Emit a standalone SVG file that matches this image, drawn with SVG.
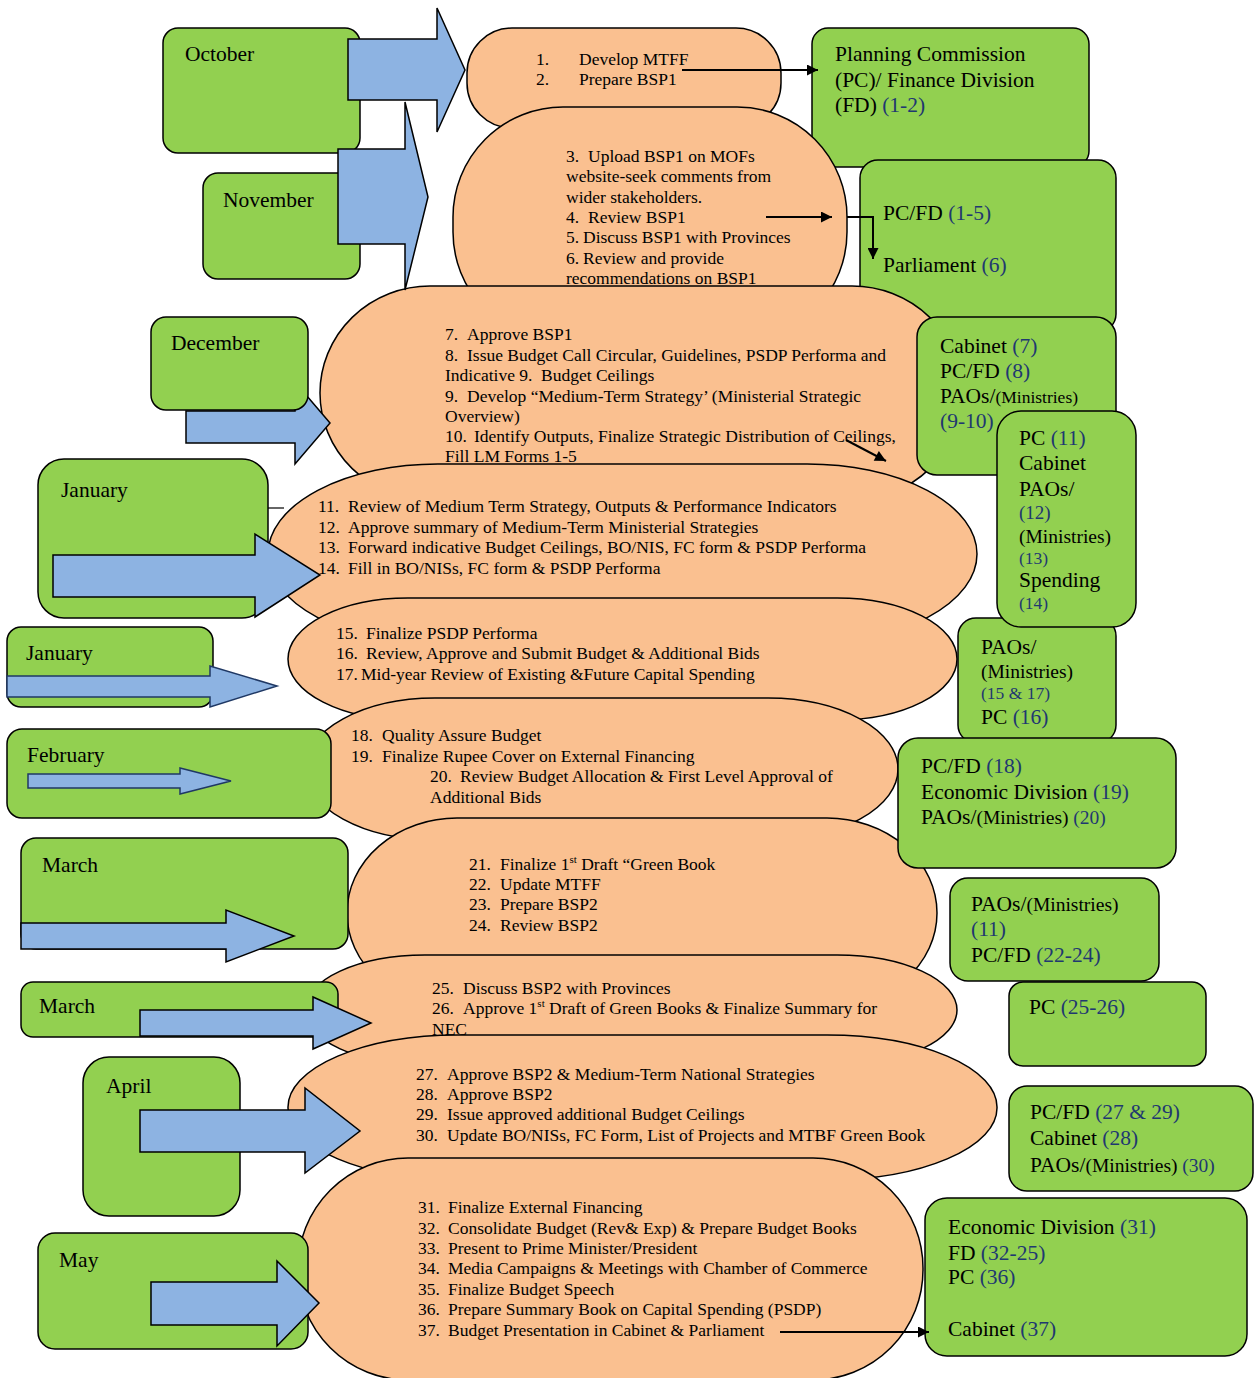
<svg xmlns="http://www.w3.org/2000/svg" width="1256" height="1378" viewBox="0 0 1256 1378">
<style>
.box{fill:#92d050;stroke:#000;stroke-width:1.5}
.oval{fill:#fac090;stroke:#000;stroke-width:1.5}
.arr{fill:#8db3e2;stroke:#000;stroke-width:1.5}
.arrn{fill:#8db3e2;stroke:#1f3864;stroke-width:1.5}
text{font-family:"Liberation Serif","Times New Roman",serif;fill:#000}
.t{font-size:17.5px}
.m{font-size:21.5px}
.s{font-size:17.5px}
.b{fill:#1f3870}
.con{fill:none;stroke:#000;stroke-width:2}
</style>
<defs>
<marker id="ah" viewBox="0 0 10 10" refX="10" refY="5" markerWidth="13" markerHeight="11" markerUnits="userSpaceOnUse" orient="auto"><path d="M0,0 L10,5 L0,10 z" fill="#000"/></marker>
</defs>

<g id="resp-1"><rect class="box" x="812" y="28" width="277" height="139" rx="16"/>
<text class="m" x="835" y="61">Planning Commission</text>
<text class="m" x="835" y="87">(PC)/ Finance Division</text>
<text class="m" x="835" y="112">(FD) <tspan class="b">(1-2)</tspan></text></g>

<g id="step-1"><rect class="oval" x="467" y="28" width="314" height="100" rx="45" ry="45"/>
<text class="t" y="65"><tspan x="536">1.</tspan><tspan x="579">Develop MTFF</tspan></text>
<text class="t" y="85"><tspan x="536">2.</tspan><tspan x="579">Prepare BSP1</tspan></text></g>

<g id="step-2"><rect class="oval" x="453" y="107" width="394" height="235" rx="110" ry="110"/>
<text class="t" y="162"><tspan x="566">3.</tspan><tspan x="588">Upload BSP1 on MOFs</tspan></text>
<text class="t" x="566" y="182">website-seek comments from</text>
<text class="t" x="566" y="203">wider stakeholders.</text>
<text class="t" y="223"><tspan x="566">4.</tspan><tspan x="588">Review BSP1</tspan></text>
<text class="t" y="243"><tspan x="566">5.</tspan><tspan x="583">Discuss BSP1 with Provinces</tspan></text>
<text class="t" y="264"><tspan x="566">6.</tspan><tspan x="583">Review and provide</tspan></text>
<text class="t" x="566" y="284">recommendations on BSP1</text></g>

<g id="resp-2"><rect class="box" x="860" y="160" width="256" height="172" rx="18"/>
<text class="m" x="883" y="220">PC/FD <tspan class="b">(1-5)</tspan></text>
<text class="m" x="883" y="272">Parliament <tspan class="b">(6)</tspan></text></g>

<g id="step-3"><rect class="oval" x="320" y="286" width="642" height="214" rx="110" ry="107"/>
<text class="t" y="340"><tspan x="445">7.</tspan><tspan x="467">Approve BSP1</tspan></text>
<text class="t" y="361"><tspan x="445">8.</tspan><tspan x="467">Issue Budget Call Circular, Guidelines, PSDP Performa and</tspan></text>
<text class="t" y="381"><tspan x="445">Indicative 9.</tspan><tspan x="541">Budget Ceilings</tspan></text>
<text class="t" y="402"><tspan x="445">9.</tspan><tspan x="467">Develop “Medium-Term Strategy’ (Ministerial Strategic</tspan></text>
<text class="t" x="445" y="422">Overview)</text>
<text class="t" y="442"><tspan x="445">10.</tspan><tspan x="474">Identify Outputs, Finalize Strategic Distribution of Ceilings,</tspan></text>
<text class="t" x="445" y="462">Fill LM Forms 1-5</text></g>

<g id="resp-3"><rect class="box" x="917" y="317" width="199" height="158" rx="20"/>
<text class="m" x="940" y="353">Cabinet <tspan class="b">(7)</tspan></text>
<text class="m" x="940" y="378">PC/FD <tspan class="b">(8)</tspan></text>
<text class="m" x="940" y="403">PAOs/<tspan class="s">(Ministries)</tspan></text>
<text class="m b" x="940" y="428">(9-10)</text></g>

<g id="step-4"><rect class="oval" x="268" y="464" width="709" height="180" rx="170" ry="90"/>
<text class="t" y="512"><tspan x="318">11.</tspan><tspan x="348">Review of Medium Term Strategy, Outputs &amp; Performance Indicators</tspan></text>
<text class="t" y="533"><tspan x="318">12.</tspan><tspan x="348">Approve summary of Medium-Term Ministerial Strategies</tspan></text>
<text class="t" y="553"><tspan x="318">13.</tspan><tspan x="348">Forward indicative Budget Ceilings, BO/NIS, FC form &amp; PSDP Performa</tspan></text>
<text class="t" y="574"><tspan x="318">14.</tspan><tspan x="348">Fill in BO/NISs, FC form &amp; PSDP Performa</tspan></text></g>

<g id="step-5"><rect class="oval" x="288" y="598" width="669" height="122" rx="120" ry="61"/>
<text class="t" y="639"><tspan x="336">15.</tspan><tspan x="366">Finalize PSDP Performa</tspan></text>
<text class="t" y="659"><tspan x="336">16.</tspan><tspan x="366">Review, Approve and Submit Budget &amp; Additional Bids</tspan></text>
<text class="t" y="680"><tspan x="336">17.</tspan><tspan x="361">Mid-year Review of Existing &amp;Future Capital Spending</tspan></text></g>

<g id="resp-5"><rect class="box" x="958" y="618" width="158" height="125" rx="18"/>
<text class="m" x="981" y="654">PAOs/</text>
<text x="981" y="678" style="font-size:19.5px">(Ministries)</text>
<text class="s b" x="981" y="699">(15 &amp; 17)</text>
<text class="m" x="981" y="724">PC <tspan class="b">(16)</tspan></text></g>

<g id="resp-4"><rect class="box" x="997" y="411" width="139" height="216" rx="24"/>
<text class="m" x="1019" y="445">PC <tspan class="b">(11)</tspan></text>
<text class="m" x="1019" y="470">Cabinet</text>
<text class="m" x="1019" y="496">PAOs/</text>
<text class="b" x="1019" y="519" style="font-size:19px">(12)</text>
<text x="1019" y="543" style="font-size:19.5px">(Ministries)</text>
<text class="s b" x="1019" y="564">(13)</text>
<text class="m" x="1019" y="587">Spending</text>
<text class="s b" x="1019" y="609">(14)</text></g>

<g id="step-6"><rect class="oval" x="305" y="698" width="593" height="142" rx="130" ry="71"/>
<text class="t" y="741"><tspan x="351">18.</tspan><tspan x="382">Quality Assure Budget</tspan></text>
<text class="t" y="762"><tspan x="351">19.</tspan><tspan x="382">Finalize Rupee Cover on External Financing</tspan></text>
<text class="t" y="782"><tspan x="430">20.</tspan><tspan x="460">Review Budget Allocation &amp; First Level Approval of</tspan></text>
<text class="t" x="430" y="803">Additional Bids</text></g>

<g id="step-7"><rect class="oval" x="347" y="818" width="590" height="190" rx="110" ry="95"/>
<text class="t" y="870"><tspan x="469">21.</tspan><tspan x="500">Finalize 1</tspan><tspan style="font-size:11px" dy="-7">st</tspan><tspan dy="7"> Draft “Green Book</tspan></text>
<text class="t" y="890"><tspan x="469">22.</tspan><tspan x="500">Update MTFF</tspan></text>
<text class="t" y="910"><tspan x="469">23.</tspan><tspan x="500">Prepare BSP2</tspan></text>
<text class="t" y="931"><tspan x="469">24.</tspan><tspan x="500">Review BSP2</tspan></text></g>

<g id="resp-6"><rect class="box" x="898" y="738" width="278" height="130" rx="20"/>
<text class="m" x="921" y="773">PC/FD <tspan class="b">(18)</tspan></text>
<text class="m" x="921" y="799">Economic Division <tspan class="b">(19)</tspan></text>
<text class="m" x="921" y="824">PAOs/<tspan style="font-size:19.5px">(Ministries) <tspan class="b">(20)</tspan></tspan></text></g>

<g id="step-8"><rect class="oval" x="305" y="955" width="652" height="110" rx="120" ry="55"/>
<text class="t" y="994"><tspan x="432">25.</tspan><tspan x="463">Discuss BSP2 with Provinces</tspan></text>
<text class="t" y="1014"><tspan x="432">26.</tspan><tspan x="463">Approve 1</tspan><tspan style="font-size:11px" dy="-7">st</tspan><tspan dy="7"> Draft of Green Books &amp; Finalize Summary for</tspan></text>
<text class="t" x="432" y="1035">NEC</text></g>

<g id="resp-7"><rect class="box" x="950" y="878" width="209" height="103" rx="18"/>
<text class="m" x="971" y="911">PAOs/<tspan style="font-size:19.5px">(Ministries)</tspan></text>
<text class="m b" x="971" y="936">(11)</text>
<text class="m" x="971" y="962">PC/FD <tspan class="b">(22-24)</tspan></text></g>

<g id="resp-8"><rect class="box" x="1009" y="982" width="197" height="84" rx="14"/>
<text class="m" x="1029" y="1014">PC <tspan class="b">(25-26)</tspan></text></g>

<g id="step-9"><rect class="oval" x="288" y="1035" width="709" height="145" rx="170" ry="72"/>
<text class="t" y="1080"><tspan x="416">27.</tspan><tspan x="447">Approve BSP2 &amp; Medium-Term National Strategies</tspan></text>
<text class="t" y="1100"><tspan x="416">28.</tspan><tspan x="447">Approve BSP2</tspan></text>
<text class="t" y="1120"><tspan x="416">29.</tspan><tspan x="447">Issue approved additional Budget Ceilings</tspan></text>
<text class="t" y="1141"><tspan x="416">30.</tspan><tspan x="447">Update BO/NISs, FC Form, List of Projects and MTBF Green Book</tspan></text></g>

<g id="resp-9"><rect class="box" x="1009" y="1086" width="244" height="105" rx="18"/>
<text class="m" x="1030" y="1119">PC/FD <tspan class="b">(27 &amp; 29)</tspan></text>
<text class="m" x="1030" y="1145">Cabinet <tspan class="b">(28)</tspan></text>
<text class="m" x="1030" y="1172">PAOs/<tspan style="font-size:19.5px">(Ministries) <tspan class="b">(30)</tspan></tspan></text></g>

<g id="step-10"><rect class="oval" x="298" y="1158" width="625" height="222" rx="110" ry="110"/>
<text class="t" y="1213"><tspan x="418">31.</tspan><tspan x="448">Finalize External Financing</tspan></text>
<text class="t" y="1234"><tspan x="418">32.</tspan><tspan x="448">Consolidate Budget (Rev&amp; Exp) &amp; Prepare Budget Books</tspan></text>
<text class="t" y="1254"><tspan x="418">33.</tspan><tspan x="448">Present to Prime Minister/President</tspan></text>
<text class="t" y="1274"><tspan x="418">34.</tspan><tspan x="448">Media Campaigns &amp; Meetings with Chamber of Commerce</tspan></text>
<text class="t" y="1295"><tspan x="418">35.</tspan><tspan x="448">Finalize Budget Speech</tspan></text>
<text class="t" y="1315"><tspan x="418">36.</tspan><tspan x="448">Prepare Summary Book on Capital Spending (PSDP)</tspan></text>
<text class="t" y="1336"><tspan x="418">37.</tspan><tspan x="448">Budget Presentation in Cabinet &amp; Parliament</tspan></text></g>

<g id="resp-10"><rect class="box" x="925" y="1198" width="322" height="158" rx="22"/>
<text class="m" x="948" y="1234">Economic Division <tspan class="b">(31)</tspan></text>
<text class="m" x="948" y="1260">FD <tspan class="b">(32-25)</tspan></text>
<text class="m" x="948" y="1284">PC <tspan class="b">(36)</tspan></text>
<text class="m" x="948" y="1336">Cabinet <tspan class="b">(37)</tspan></text></g>

<g id="m-october"><rect class="box" x="163" y="28" width="197" height="125" rx="15"/>
<text class="m" x="185" y="61">October</text></g>
<g id="m-november"><rect class="box" x="203" y="173" width="157" height="106" rx="15"/>
<text class="m" x="223" y="207">November</text></g>
<g id="arrow-december"><polygon class="arr" points="186,411 295,411 295,382 330,423 295,464 295,443 186,443"/></g>
<g id="m-december"><rect class="box" x="151" y="317" width="157" height="93" rx="15"/>
<text class="m" x="171" y="350">December</text></g>
<g id="m-january"><rect class="box" x="38" y="459" width="230" height="159" rx="26"/>
<text class="m" x="61" y="497">January</text></g>
<g id="m-january-2"><rect class="box" x="7" y="627" width="206" height="80" rx="14"/>
<text class="m" x="26" y="660">January</text></g>
<g id="m-february"><rect class="box" x="7" y="729" width="324" height="89" rx="15"/>
<text class="m" x="27" y="762">February</text></g>
<g id="m-march"><rect class="box" x="21" y="838" width="327" height="111" rx="15"/>
<text class="m" x="42" y="872">March</text></g>
<g id="m-march-2"><rect class="box" x="21" y="982" width="317" height="55" rx="12"/>
<text class="m" x="39" y="1013">March</text></g>
<g id="m-april"><rect class="box" x="83" y="1057" width="157" height="159" rx="26"/>
<text class="m" x="106" y="1093">April</text></g>
<g id="m-may"><rect class="box" x="38" y="1233" width="270" height="116" rx="17"/>
<text class="m" x="59" y="1267">May</text></g>

<g id="month-arrows">
<polygon class="arr" points="338,149 405,149 405,102 428,197 405,290 405,244 338,244"/>
<polygon class="arr" points="348,39 437,39 437,8 465,70 437,132 437,100 348,100"/>
<polygon class="arr" points="53,555 255,555 255,534 320,575 255,617 255,597 53,597"/>
<polygon class="arrn" points="7,676 210,676 210,666 277,686 210,707 210,697 7,697"/>
<polygon class="arrn" points="28,774 180,774 180,768 231,781 180,794 180,788 28,788"/>
<polygon class="arr" points="21,923 226,923 226,910 294,936 226,962 226,949 21,949"/>
<polygon class="arr" points="140,1010 313,1010 313,997 371,1023 313,1049 313,1036 140,1036"/>
<polygon class="arr" points="140,1110 305,1110 305,1088 360,1131 305,1173 305,1152 140,1152"/>
<polygon class="arr" points="151,1282 277,1282 277,1261 319,1303 277,1346 277,1325 151,1325"/>
</g>

<g id="connectors">
<line class="con" x1="682" y1="70" x2="818" y2="70" marker-end="url(#ah)"/>
<line class="con" x1="766" y1="217" x2="832" y2="217" marker-end="url(#ah)"/>
<polyline class="con" points="847,217 873,217 873,259" marker-end="url(#ah)"/>
<line class="con" x1="846" y1="440" x2="886" y2="461" marker-end="url(#ah)"/>
<line class="con" x1="780" y1="1332" x2="929" y2="1332" marker-end="url(#ah)"/>
<line x1="268" y1="508" x2="284" y2="508" stroke="#000" stroke-width="1.2"/>
</g>
</svg>
